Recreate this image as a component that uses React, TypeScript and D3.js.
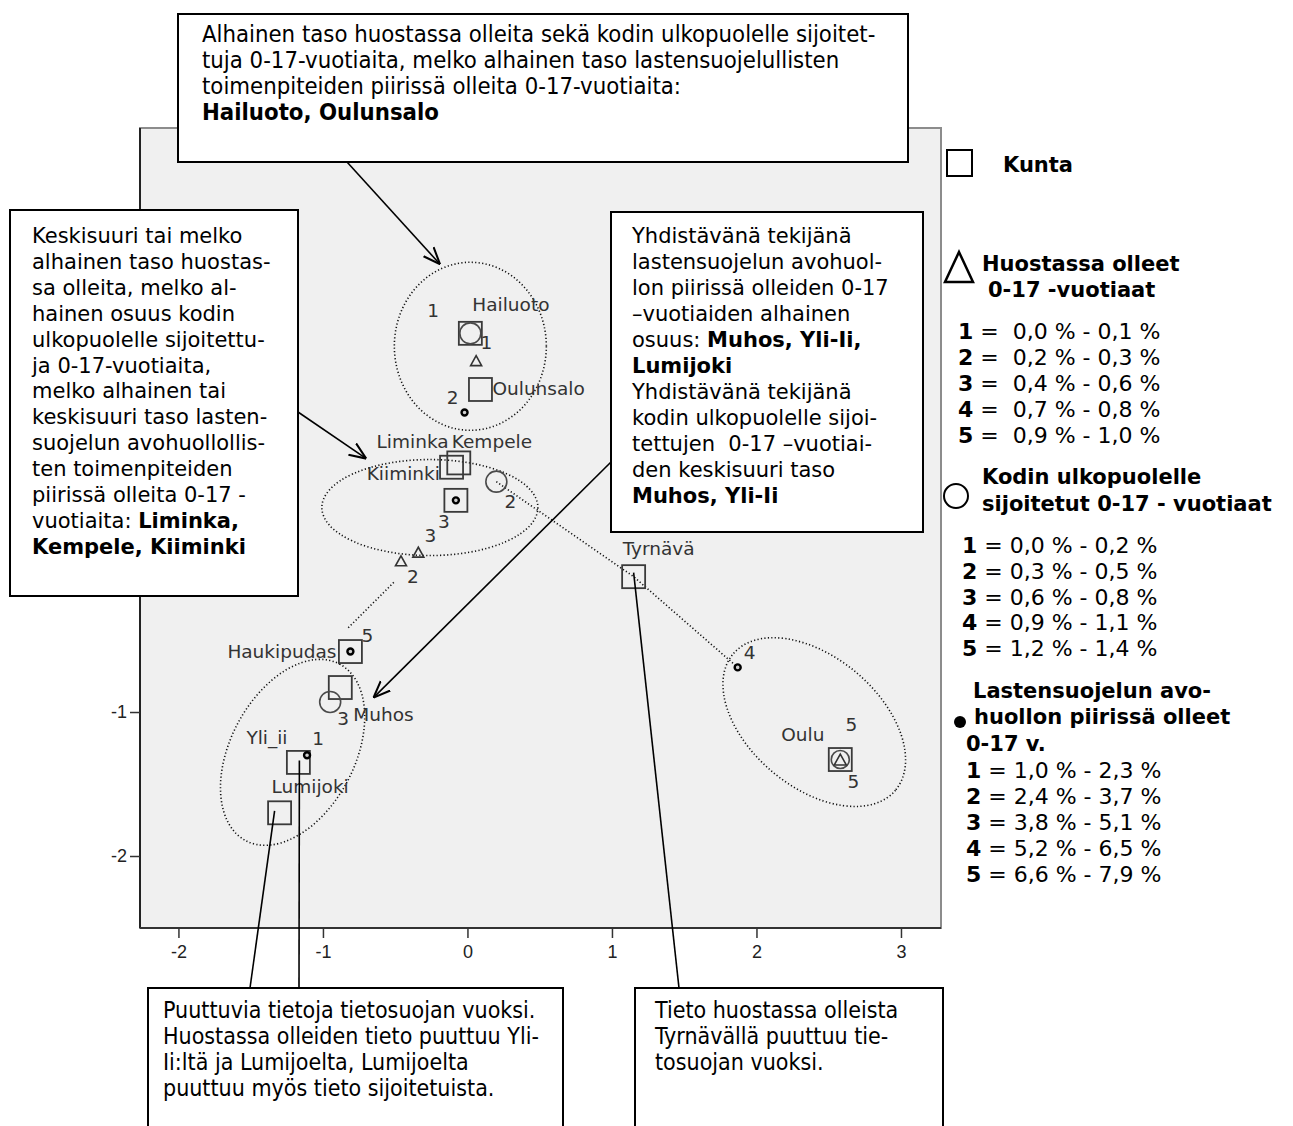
import { useEffect, useRef } from 'react'
import * as d3 from 'd3'

// Kunnat (object scores on dimensions 1 and 2)
const kunnat = [
  { name: 'Hailuoto', x: 0.02, y: 1.63 },
  { name: 'Oulunsalo', x: 0.09, y: 1.24 },
  { name: 'Liminka', x: -0.11, y: 0.7 },
  { name: 'Kempele', x: -0.06, y: 0.73 },
  { name: 'Kiiminki', x: -0.08, y: 0.47 },
  { name: 'Haukipudas', x: -0.81, y: -0.58 },
  { name: 'Muhos', x: -0.88, y: -0.83 },
  { name: 'Yli_ii', x: -1.17, y: -1.35 },
  { name: 'Lumijoki', x: -1.3, y: -1.7 },
  { name: 'Tyrnävä', x: 1.15, y: -0.06 },
  { name: 'Oulu', x: 2.58, y: -1.33 },
]

// category points
const huostassa = [
  { cat: 1, x: 0.06, y: 1.44 },
  { cat: 2, x: -0.46, y: 0.05 },
  { cat: 3, x: -0.34, y: 0.11 },
  { cat: 5, x: 2.58, y: -1.33 },
]
const kodin = [
  { cat: 1, x: 0.02, y: 1.63 },
  { cat: 2, x: 0.2, y: 0.6 },
  { cat: 3, x: -0.95, y: -0.93 },
  { cat: 5, x: 2.58, y: -1.33 },
]
const avohuolto = [
  { cat: 1, x: -1.11, y: -1.3 },
  { cat: 2, x: -0.02, y: 1.08 },
  { cat: 3, x: -0.08, y: 0.47 },
  { cat: 4, x: 1.87, y: -0.69 },
  { cat: 5, x: -0.81, y: -0.58 },
]

const xTicks = [-2, -1, 0, 1, 2, 3]
// 0, 1 and 2 sit under the left text box
const yTicks = [-2, -1]

const huostassaLuokat = ['0,0 % - 0,1 %', '0,2 % - 0,3 %', '0,4 % - 0,6 %', '0,7 % - 0,8 %', '0,9 % - 1,0 %']
const kodinLuokat = ['0,0 % - 0,2 %', '0,3 % - 0,5 %', '0,6 % - 0,8 %', '0,9 % - 1,1 %', '1,2 % - 1,4 %']
const avoLuokat = ['1,0 % - 2,3 %', '2,4 % - 3,7 %', '3,8 % - 5,1 %', '5,2 % - 6,5 %', '6,6 % - 7,9 %']

type Seg = { t: string; b?: boolean }
const topText: Seg[][] = [
  [{ t: 'Alhainen taso huostassa olleita sekä kodin ulkopuolelle sijoitet-' }],
  [{ t: 'tuja 0-17-vuotiaita, melko alhainen taso lastensuojelullisten' }],
  [{ t: 'toimenpiteiden piirissä olleita 0-17-vuotiaita:' }],
  [{ t: 'Hailuoto, Oulunsalo', b: true }],
]
const leftText: Seg[][] = [
  [{ t: 'Keskisuuri tai melko' }],
  [{ t: 'alhainen taso huostas-' }],
  [{ t: 'sa olleita, melko al-' }],
  [{ t: 'hainen osuus kodin' }],
  [{ t: 'ulkopuolelle sijoitettu-' }],
  [{ t: 'ja 0-17-vuotiaita,' }],
  [{ t: 'melko alhainen tai' }],
  [{ t: 'keskisuuri taso lasten-' }],
  [{ t: 'suojelun avohuollollis-' }],
  [{ t: 'ten toimenpiteiden' }],
  [{ t: 'piirissä olleita 0-17 -' }],
  [{ t: 'vuotiaita: ' }, { t: 'Liminka,', b: true }],
  [{ t: 'Kempele, Kiiminki', b: true }],
]
const rightText: Seg[][] = [
  [{ t: 'Yhdistävänä tekijänä' }],
  [{ t: 'lastensuojelun avohuol-' }],
  [{ t: 'lon piirissä olleiden 0-17' }],
  [{ t: '–vuotiaiden alhainen' }],
  [{ t: 'osuus: ' }, { t: 'Muhos, Yli-Ii,', b: true }],
  [{ t: 'Lumijoki', b: true }],
  [{ t: 'Yhdistävänä tekijänä' }],
  [{ t: 'kodin ulkopuolelle sijoi-' }],
  [{ t: 'tettujen  0-17 –vuotiai-' }],
  [{ t: 'den keskisuuri taso' }],
  [{ t: 'Muhos, Yli-Ii', b: true }],
]
const bottomLeftText: Seg[][] = [
  [{ t: 'Puuttuvia tietoja tietosuojan vuoksi.' }],
  [{ t: 'Huostassa olleiden tieto puuttuu Yli-' }],
  [{ t: 'Ii:ltä ja Lumijoelta, Lumijoelta' }],
  [{ t: 'puuttuu myös tieto sijoitetuista.' }],
]
const bottomRightText: Seg[][] = [
  [{ t: 'Tieto huostassa olleista' }],
  [{ t: 'Tyrnävällä puuttuu tie-' }],
  [{ t: 'tosuojan vuoksi.' }],
]

// label placement (pixels relative to point)
const kuntaLabel: Record<string, { dx: number; dy: number; anchor?: string }> = {
  Hailuoto: { dx: 2, dy: -22 },
  Oulunsalo: { dx: 12, dy: 6 },
  Liminka: { dx: -75, dy: -19 },
  Kempele: { dx: -7, dy: -15 },
  Kiiminki: { dx: -16, dy: -20, anchor: 'end' },
  Haukipudas: { dx: -14, dy: 6, anchor: 'end' },
  Muhos: { dx: 13, dy: 33 },
  Yli_ii: { dx: -52, dy: -18 },
  Lumijoki: { dx: -8, dy: -20 },
  Tyrnävä: { dx: -11, dy: -22 },
  Oulu: { dx: -59, dy: -19 },
}
const huostLabel: Record<number, [number, number]> = { 1: [-43, -44], 2: [12, 22], 3: [12, -10], 5: [13, 28] }
const kodinLabel: Record<number, [number, number]> = { 1: [16, 16], 2: [14, 26], 3: [13, 23], 5: [11, -29] }
const avoLabel: Record<number, [number, number]> = { 1: [11, -10], 2: [-12, -9], 3: [-12, 28], 4: [12, -8], 5: [17, -10] }

const plot = { left: 140, right: 941, top: 128, bottom: 928 }
const x = d3.scaleLinear().domain([-2.266, 3.277]).range([plot.left, plot.right])
const y = d3.scaleLinear().domain([-2.5, 3.056]).range([plot.bottom, plot.top])

const labelFont = "'DejaVu Sans', Verdana, sans-serif"
const narrowFont = "'DejaVu Sans Condensed', 'Liberation Sans Narrow', 'Roboto Condensed', sans-serif"

function TextBox({ bx, by, w, h, lines, tx, ty, lh, size, family, stretch }: any) {
  return (
    <g>
      <rect x={bx} y={by} width={w} height={h} fill="#fff" stroke="#000" strokeWidth={2} />
      <text fontFamily={family} fontSize={size} fill="#000" style={{ whiteSpace: 'pre', fontStretch: stretch }}>
        {lines.map((segs: Seg[], i: number) => (
          <tspan key={i} x={tx} y={ty + i * lh}>
            {segs.map((s, j) => (
              <tspan key={j} fontWeight={s.b ? 'bold' : 'normal'}>{s.t}</tspan>
            ))}
          </tspan>
        ))}
      </text>
    </g>
  )
}

function tri(cx: number, cy: number, s: number) {
  const h = s * 0.9
  return `M${cx},${cy - h / 2}L${cx + s / 2},${cy + h / 2}L${cx - s / 2},${cy + h / 2}Z`
}

export default function App() {
  const xAxisRef = useRef<SVGGElement>(null)
  const yAxisRef = useRef<SVGGElement>(null)

  useEffect(() => {
    const xa = d3.select(xAxisRef.current!)
    xa.selectAll('*').remove()
    xa.call(d3.axisBottom(x).tickValues(xTicks).tickSize(10).tickPadding(7).tickFormat((d) => String(d)))
    const ya = d3.select(yAxisRef.current!)
    ya.selectAll('*').remove()
    ya.call(d3.axisLeft(y).tickValues(yTicks).tickSize(10).tickPadding(3).tickFormat((d) => String(d)))
    for (const g of [xa, ya]) {
      g.select('.domain').remove()
      g.selectAll('line').attr('stroke', '#333').attr('stroke-width', 1.5)
      g.selectAll('text').attr('fill', '#222').style('font-family', "'Liberation Sans', Arial, sans-serif").style('font-size', '18px')
    }
  }, [])

  const P = (d: { x: number; y: number }) => [x(d.x), y(d.y)]
  const kodin2 = kodin.find((d) => d.cat === 2)!
  const tyrnava = kunnat.find((d) => d.name === 'Tyrnävä')!
  const avo4 = avohuolto.find((d) => d.cat === 4)!
  const dotLine = d3.line()([P(kodin2), P(tyrnava), P(avo4)] as [number, number][])
  const dotted = { fill: 'none', stroke: '#111', strokeWidth: 1.6, strokeDasharray: '1.2 2.3' }

  const ellipses = [
    { cx: 0.02, cy: 1.54, rx: 76, ry: 84, rot: 0 },
    { cx: -0.26, cy: 0.42, rx: 108, ry: 48, rot: 0 },
    { cx: -1.21, cy: -1.28, rx: 100, ry: 62, rot: -62 },
    { cx: 2.4, cy: -1.07, rx: 106, ry: 65, rot: 40 },
  ]

  const lumijoki = kunnat.find((d) => d.name === 'Lumijoki')!
  const yliii = kunnat.find((d) => d.name === 'Yli_ii')!

  return (
    <svg width={1293} height={1126} style={{ position: 'absolute', left: 0, top: 0, background: '#fff' }}>
      <defs>
        <marker id="arr" viewBox="0 0 10 10" refX={10} refY={5} markerWidth={17} markerHeight={17} markerUnits="userSpaceOnUse" orient="auto">
          <path d="M0,1 L10,5 L0,9" fill="none" stroke="#000" strokeWidth={1.2} />
        </marker>
      </defs>

      {/* plot area */}
      <rect x={plot.left} y={plot.top} width={plot.right - plot.left} height={plot.bottom - plot.top} fill="#f0f0f0" stroke="#8c8c8c" strokeWidth={2} />
      <line x1={plot.left} x2={plot.left} y1={plot.top} y2={plot.bottom} stroke="#222" strokeWidth={2} />
      <line x1={plot.left} x2={plot.right} y1={plot.bottom} y2={plot.bottom} stroke="#333" strokeWidth={2} />
      <g ref={xAxisRef} transform={`translate(0,${plot.bottom})`} />
      <g ref={yAxisRef} transform={`translate(${plot.left},0)`} />

      {/* dotted groupings */}
      {ellipses.map((e, i) => (
        <ellipse key={i} cx={x(e.cx)} cy={y(e.cy)} rx={e.rx} ry={e.ry} transform={`rotate(${e.rot} ${x(e.cx)} ${y(e.cy)})`} {...dotted} />
      ))}
      <path d={dotLine!} {...dotted} />
      <line x1={x(-0.51)} y1={y(-0.1)} x2={x(-0.83)} y2={y(-0.42)} {...dotted} />

      {/* kunnat */}
      {kunnat.map((d) => (
        <rect key={d.name} x={x(d.x) - 11.5} y={y(d.y) - 11.5} width={23} height={23} fill="none" stroke="#3a3a3a" strokeWidth={1.8} />
      ))}
      {kodin.map((d) => (
        <circle key={d.cat} cx={x(d.x)} cy={y(d.y)} r={d.cat === 5 ? 9 : 10.5} fill="none" stroke="#4a4a4a" strokeWidth={1.6} />
      ))}
      {huostassa.map((d) => (
        <path key={d.cat} d={tri(x(d.x), y(d.y), d.cat === 5 ? 12 : 11)} fill="none" stroke="#333" strokeWidth={1.6} />
      ))}
      {avohuolto.map((d) => (
        <circle key={d.cat} cx={x(d.x)} cy={y(d.y)} r={3} fill="#cfcfcf" stroke="#000" strokeWidth={2.4} />
      ))}

      <g fontFamily={labelFont} fontSize={18.5} fill="#333">
        {kunnat.map((d) => {
          const o = kuntaLabel[d.name]
          return (
            <text key={d.name} x={x(d.x) + o.dx} y={y(d.y) + o.dy} textAnchor={o.anchor ?? 'start'}>
              {d.name}
            </text>
          )
        })}
        {huostassa.map((d) => (
          <text key={'h' + d.cat} x={x(d.x) + huostLabel[d.cat][0]} y={y(d.y) + huostLabel[d.cat][1]} textAnchor="middle">{d.cat}</text>
        ))}
        {kodin.map((d) => (
          <text key={'k' + d.cat} x={x(d.x) + kodinLabel[d.cat][0]} y={y(d.y) + kodinLabel[d.cat][1]} textAnchor="middle">{d.cat}</text>
        ))}
        {avohuolto.map((d) => (
          <text key={'a' + d.cat} x={x(d.x) + avoLabel[d.cat][0]} y={y(d.y) + avoLabel[d.cat][1]} textAnchor="middle">{d.cat}</text>
        ))}
      </g>

      {/* annotation boxes */}
      <TextBox bx={178} by={14} w={730} h={148} lines={topText} tx={202} ty={42} lh={26} size={23.7} family={narrowFont} stretch="condensed" />
      <TextBox bx={10} by={210} w={288} h={386} lines={leftText} tx={32} ty={243} lh={25.9} size={21} family={labelFont} />
      <TextBox bx={611} by={212} w={312} h={320} lines={rightText} tx={632} ty={243} lh={26} size={21} family={labelFont} />
      <TextBox bx={148} by={988} w={415} h={160} lines={bottomLeftText} tx={163} ty={1018} lh={26} size={23} family={narrowFont} stretch="condensed" />
      <TextBox bx={635} by={988} w={308} h={160} lines={bottomRightText} tx={655} ty={1018} lh={26} size={23} family={narrowFont} stretch="condensed" />

      {/* pointers */}
      <g stroke="#000" strokeWidth={1.6}>
        <line x1={347} y1={162} x2={x(-0.19)} y2={y(2.11)} markerEnd="url(#arr)" />
        <line x1={298} y1={412} x2={x(-0.7)} y2={y(0.76)} markerEnd="url(#arr)" />
        <line x1={611} y1={462} x2={x(-0.65)} y2={y(-0.9)} markerEnd="url(#arr)" />
        <line x1={250} y1={988} x2={x(lumijoki.x) - 5} y2={y(lumijoki.y) - 2} />
        <line x1={299} y1={988} x2={x(yliii.x) + 1} y2={y(yliii.y) - 2} />
        <line x1={679} y1={988} x2={x(tyrnava.x)} y2={y(tyrnava.y) - 4} />
      </g>

      {/* legend */}
      <g fontFamily={labelFont} fontSize={21} fill="#000">
        <rect x={947} y={150} width={25} height={26} fill="none" stroke="#000" strokeWidth={2} />
        <text x={1003} y={172} fontWeight="bold">Kunta</text>

        <path d="M959,252 L973,282 L945,282 Z" fill="none" stroke="#000" strokeWidth={2.5} />
        <text x={982} y={271} fontWeight="bold">Huostassa olleet</text>
        <text x={988} y={297} fontWeight="bold">0-17 -vuotiaat</text>
        {huostassaLuokat.map((t, i) => (
          <text key={i} x={958} y={339 + i * 26} fontSize={22} style={{ whiteSpace: 'pre' }}>
            <tspan fontWeight="bold">{i + 1}</tspan>
            <tspan>{' =  ' + t}</tspan>
          </text>
        ))}

        <circle cx={956} cy={496} r={12} fill="none" stroke="#000" strokeWidth={2} />
        <text x={982} y={484} fontWeight="bold">Kodin ulkopuolelle</text>
        <text x={982} y={511} fontWeight="bold">sijoitetut 0-17 - vuotiaat</text>
        {kodinLuokat.map((t, i) => (
          <text key={i} x={962} y={553 + i * 25.8} fontSize={22} style={{ whiteSpace: 'pre' }}>
            <tspan fontWeight="bold">{i + 1}</tspan>
            <tspan>{' = ' + t}</tspan>
          </text>
        ))}

        <text x={973} y={698} fontWeight="bold">Lastensuojelun avo-</text>
        <circle cx={960} cy={722} r={6} fill="#000" />
        <text x={974} y={724} fontWeight="bold">huollon piirissä olleet</text>
        <text x={966} y={751} fontWeight="bold">0-17 v.</text>
        {avoLuokat.map((t, i) => (
          <text key={i} x={966} y={778 + i * 25.9} fontSize={22} style={{ whiteSpace: 'pre' }}>
            <tspan fontWeight="bold">{i + 1}</tspan>
            <tspan>{' = ' + t}</tspan>
          </text>
        ))}
      </g>
    </svg>
  )
}
